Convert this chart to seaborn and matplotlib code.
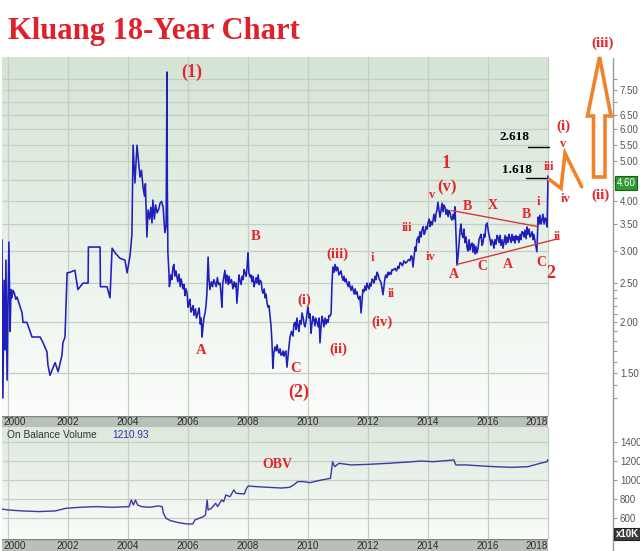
import numpy as np
import pandas as pd
import matplotlib
matplotlib.use('Agg')
import matplotlib.pyplot as plt
import seaborn as sns
from matplotlib.patches import Polygon
from matplotlib.lines import Line2D
from matplotlib.ticker import NullFormatter, FixedLocator, FuncFormatter

sns.set_theme(style='white')
plt.rcParams['font.family'] = ['Liberation Sans', 'DejaVu Sans']

# ---------------- data ----------------
# main swing points of the price line (year, price)
price_year = [1999.80, 1999.83, 1999.87, 1999.90, 1999.93, 1999.97, 2000.00, 2000.03, 2000.07, 2000.10,
              2000.13, 2000.17, 2000.30, 2000.47, 2000.50, 2000.63, 2000.80, 2001.07, 2001.17, 2001.30,
              2001.33, 2001.40, 2001.57, 2001.67, 2001.80, 2001.83, 2001.90, 2001.97, 2002.07, 2002.23,
              2002.33, 2002.50, 2002.67, 2002.68, 2003.07, 2003.08, 2003.30, 2003.40, 2003.47, 2003.57,
              2003.73, 2003.90, 2003.97, 2004.07, 2004.13, 2004.17, 2004.23, 2004.30, 2004.40, 2004.50,
              2004.63, 2004.67, 2004.80, 2004.83, 2004.97, 2005.07, 2005.17, 2005.23, 2005.30, 2005.31,
              2005.33, 2005.40, 2005.50, 2005.63, 2005.80, 2005.97, 2006.00, 2006.13, 2006.33, 2006.47,
              2006.57, 2006.67, 2006.73, 2006.90, 2007.07, 2007.13, 2007.23, 2007.40, 2007.57, 2007.63,
              2007.73, 2007.90, 2008.00, 2008.07, 2008.23, 2008.40, 2008.50, 2008.67, 2008.80, 2008.83,
              2008.90, 2009.00, 2009.13, 2009.23, 2009.30, 2009.40, 2009.57, 2009.67, 2009.80, 2009.90,
              2010.00, 2010.10, 2010.17, 2010.30, 2010.40, 2010.47, 2010.63, 2010.73, 2010.80, 2010.83,
              2010.97, 2011.07, 2011.17, 2011.30, 2011.40, 2011.50, 2011.67, 2011.77, 2011.83, 2012.00,
              2012.17, 2012.30, 2012.40, 2012.50, 2012.57, 2012.67, 2012.83, 2013.07, 2013.30, 2013.47,
              2013.50, 2013.57, 2013.67, 2013.80, 2013.90, 2014.00, 2014.17, 2014.30, 2014.33, 2014.40,
              2014.47, 2014.57, 2014.73, 2014.80, 2014.90, 2014.97, 2015.07, 2015.17, 2015.30, 2015.47,
              2015.63, 2015.73, 2015.83, 2015.97, 2016.07, 2016.17, 2016.33, 2016.50, 2016.73, 2016.97,
              2017.17, 2017.30, 2017.40, 2017.57, 2017.63, 2017.67, 2017.80, 2017.90, 2017.97, 2018.00]
price_value = [3.20, 1.30, 2.54, 1.71, 2.85, 1.44, 2.25, 3.16, 1.90, 2.41,
               2.30, 2.40, 2.31, 2.11, 2.00, 2.00, 1.84, 1.84, 1.78, 1.69,
               1.57, 1.48, 1.59, 1.51, 1.66, 1.78, 1.84, 2.65, 2.66, 2.69,
               2.41, 2.50, 2.50, 3.07, 3.07, 2.45, 2.45, 2.30, 3.05, 2.97,
               2.88, 2.85, 2.65, 2.93, 3.29, 5.48, 4.42, 5.48, 4.57, 4.32,
               3.25, 3.79, 3.52, 4.01, 3.73, 3.94, 3.86, 3.33, 8.31, 4.42,
               2.97, 2.50, 2.74, 2.59, 2.50, 2.36, 2.18, 2.15, 2.11, 1.84,
               2.11, 2.90, 2.41, 2.50, 2.50, 2.18, 2.69, 2.50, 2.45, 2.23,
               2.54, 2.65, 2.97, 2.59, 2.50, 2.54, 2.36, 2.18, 1.78, 1.54,
               1.74, 1.71, 1.66, 1.68, 1.55, 1.84, 2.00, 1.95, 2.11, 1.95,
               2.18, 1.88, 2.07, 2.00, 1.78, 2.07, 2.03, 2.07, 2.50, 2.74,
               2.74, 2.65, 2.54, 2.50, 2.45, 2.41, 2.30, 2.11, 2.41, 2.45,
               2.54, 2.66, 2.54, 2.34, 2.59, 2.66, 2.69, 2.81, 2.82, 2.90,
               2.74, 3.07, 3.25, 3.38, 3.33, 3.52, 3.58, 3.79, 3.96, 3.64,
               3.94, 3.84, 3.75, 3.58, 3.86, 2.77, 3.38, 3.24, 3.07, 3.14,
               2.97, 3.25, 3.14, 3.52, 3.20, 3.14, 3.25, 3.05, 3.24, 3.20,
               3.33, 3.44, 3.25, 3.16, 2.99, 3.64, 3.58, 3.62, 3.44, 4.60]

# extra in-between readings of the jagged daily line (year, price)
detail_year = [2000.22, 2000.26,
               2004.45, 2004.55, 2004.58, 2004.72, 2004.76, 2004.88, 2004.92, 2005.02, 2005.12, 2005.20, 2005.27,
               2005.36, 2005.38, 2005.43, 2005.46, 2005.53, 2005.56, 2005.60, 2005.66, 2005.70, 2005.74, 2005.77,
               2005.83, 2005.87, 2005.90, 2005.93, 2006.03, 2006.06, 2006.10, 2006.17, 2006.20, 2006.25, 2006.28,
               2006.37, 2006.41, 2006.44, 2006.50, 2006.53, 2006.60, 2006.63, 2006.70,
               2006.78, 2006.82, 2006.86, 2006.94, 2006.98, 2007.02,
               2007.10, 2007.16, 2007.19, 2007.26, 2007.30, 2007.34, 2007.37,
               2007.45, 2007.50, 2007.54, 2007.60, 2007.67, 2007.70,
               2007.77, 2007.80, 2007.84, 2007.87, 2007.94, 2007.97,
               2008.03, 2008.10, 2008.13, 2008.17, 2008.20, 2008.27, 2008.30, 2008.34, 2008.37, 2008.44, 2008.47,
               2008.54, 2008.57, 2008.60, 2008.64, 2008.70, 2008.74, 2008.77,
               2008.86, 2008.94, 2008.97, 2009.03, 2009.07, 2009.10, 2009.17, 2009.20, 2009.26,
               2009.35, 2009.45, 2009.50, 2009.53, 2009.60, 2009.63, 2009.70, 2009.73, 2009.77, 2009.84, 2009.87,
               2009.94, 2009.97, 2010.04, 2010.07, 2010.13, 2010.20, 2010.23, 2010.26, 2010.34, 2010.37, 2010.44,
               2010.50, 2010.53, 2010.57, 2010.60, 2010.67, 2010.70, 2010.77,
               2010.87, 2010.90, 2010.94, 2011.00, 2011.03, 2011.10, 2011.14, 2011.20, 2011.24, 2011.27, 2011.34,
               2011.37, 2011.44, 2011.47, 2011.54, 2011.57, 2011.60, 2011.63, 2011.70, 2011.73, 2011.80, 2011.87,
               2011.90, 2011.94, 2011.97,
               2012.04, 2012.07, 2012.10, 2012.14, 2012.20, 2012.24, 2012.27, 2012.34, 2012.37, 2012.44, 2012.47,
               2012.53, 2012.60, 2012.63, 2012.70, 2012.74, 2012.77, 2012.80,
               2012.90, 2012.95, 2013.00, 2013.03, 2013.10, 2013.15, 2013.20, 2013.25, 2013.35, 2013.40, 2013.44,
               2013.60, 2013.63, 2013.70, 2013.73, 2013.77, 2013.84, 2013.87, 2013.94, 2013.97,
               2014.04, 2014.07, 2014.10, 2014.14, 2014.20, 2014.24, 2014.27,
               2014.50, 2014.53, 2014.60, 2014.63, 2014.67, 2014.70, 2014.77, 2014.84, 2014.87,
               2015.00, 2015.03, 2015.10, 2015.13, 2015.20, 2015.23, 2015.27, 2015.33, 2015.37, 2015.40, 2015.43,
               2015.50, 2015.53, 2015.57, 2015.60, 2015.67, 2015.70, 2015.77, 2015.80, 2015.87, 2015.90, 2015.93,
               2016.00, 2016.03,
               2016.10, 2016.13, 2016.20, 2016.23, 2016.27, 2016.30, 2016.37, 2016.40, 2016.43, 2016.47, 2016.53,
               2016.57, 2016.60, 2016.63, 2016.67, 2016.70, 2016.77, 2016.80, 2016.84, 2016.87, 2016.90, 2016.93,
               2017.00, 2017.03, 2017.07, 2017.10, 2017.13, 2017.20, 2017.23, 2017.27, 2017.33, 2017.37, 2017.43,
               2017.47, 2017.50, 2017.53,
               2017.70, 2017.73, 2017.77, 2017.83, 2017.87, 2017.93]
detail_value = [2.35, 2.28,
                4.75, 4.10, 4.40, 3.60, 3.85, 3.60, 3.90, 3.80, 3.98, 3.60, 3.45,
                2.70, 2.45, 2.62, 2.55, 2.78, 2.60, 2.68, 2.52, 2.63, 2.45, 2.56,
                2.42, 2.48, 2.33, 2.42, 2.22, 2.28, 2.12, 2.20, 2.08, 2.16, 2.05,
                2.17, 1.98, 2.05, 1.95, 2.05, 2.20, 2.35, 2.55,
                2.52, 2.45, 2.55, 2.45, 2.58, 2.48,
                2.35, 2.50, 2.58, 2.50, 2.62, 2.48, 2.60,
                2.55, 2.42, 2.52, 2.50, 2.45, 2.62,
                2.48, 2.60, 2.55, 2.70, 2.60, 2.75,
                2.65, 2.62, 2.52, 2.60, 2.45, 2.58, 2.50, 2.62, 2.48, 2.52, 2.40,
                2.42, 2.30, 2.35, 2.22, 2.20, 2.05, 1.95,
                1.68, 1.70, 1.76, 1.68, 1.72, 1.66, 1.70, 1.65, 1.70,
                1.70, 1.90, 1.85, 1.98, 1.92, 2.05, 1.90, 2.02, 1.98, 2.05, 1.98,
                2.02, 2.12, 2.05, 2.10, 1.98, 2.03, 1.96, 2.05, 1.95, 2.05, 1.98,
                2.02, 1.95, 2.05, 1.98, 2.00, 2.08, 2.10,
                2.66, 2.78, 2.68, 2.72, 2.62, 2.68, 2.58, 2.60, 2.52, 2.56, 2.45,
                2.52, 2.40, 2.46, 2.35, 2.42, 2.35, 2.38, 2.28, 2.32, 2.25, 2.38,
                2.46, 2.40, 2.50,
                2.42, 2.50, 2.46, 2.56, 2.50, 2.60, 2.55, 2.62, 2.56, 2.50, 2.42,
                2.45, 2.62, 2.58, 2.62, 2.66, 2.63, 2.70,
                2.72, 2.68, 2.75, 2.72, 2.80, 2.76, 2.84, 2.80, 2.86, 2.84, 2.92,
                3.00, 3.20, 3.15, 3.35, 3.25, 3.45, 3.30, 3.45, 3.40,
                3.60, 3.45, 3.55, 3.48, 3.70, 3.55, 3.72,
                3.75, 3.90, 3.70, 3.80, 3.65, 3.78, 3.62, 3.70, 3.60,
                2.90, 3.10, 3.50, 3.30, 3.40, 3.15, 3.25, 3.00, 3.20, 3.02, 3.10,
                2.98, 3.12, 2.95, 3.08, 3.05, 3.20, 3.30, 3.10, 3.30, 3.25, 3.48,
                3.40, 3.30,
                3.10, 3.20, 3.05, 3.20, 3.12, 3.28, 3.15, 3.28, 3.10, 3.20, 3.15,
                3.28, 3.12, 3.25, 3.15, 3.30, 3.15, 3.30, 3.18, 3.26, 3.14, 3.28,
                3.26, 3.15, 3.30, 3.20, 3.35, 3.25, 3.38, 3.22, 3.30, 3.40, 3.28,
                3.35, 3.20, 3.30,
                3.50, 3.68, 3.50, 3.70, 3.50, 3.60]

obv_year = [1999.80, 2000.00, 2000.48, 2001.03, 2001.58, 2001.92, 2002.40, 2002.95, 2003.49, 2004.04,
            2004.11, 2004.18, 2004.25, 2004.32, 2004.45, 2004.73, 2005.00, 2005.14, 2005.18, 2005.27,
            2005.41, 2005.68, 2005.96, 2006.16, 2006.23, 2006.37, 2006.51, 2006.58, 2006.64, 2006.67,
            2006.78, 2006.92, 2006.99, 2007.12, 2007.19, 2007.26, 2007.40, 2007.53, 2007.60, 2007.88,
            2007.95, 2008.01, 2008.29, 2008.70, 2009.11, 2009.38, 2009.52, 2009.66, 2009.86, 2010.07,
            2010.34, 2010.62, 2010.75, 2010.82, 2010.89, 2011.03, 2011.44, 2011.99, 2012.67, 2013.36,
            2013.77, 2014.18, 2014.86, 2014.93, 2015.27, 2015.82, 2016.23, 2016.78, 2017.33, 2017.74,
            2017.97, 2018.00]
obv_value = [697, 687, 677, 670, 677, 704, 715, 722, 715, 722,
             791, 739, 791, 739, 722, 715, 729, 722, 652, 600,
             576, 555, 541, 541, 583, 600, 617, 635, 791, 687,
             704, 757, 722, 791, 774, 843, 826, 896, 861, 854,
             913, 937, 930, 923, 916, 923, 948, 983, 983, 972,
             993, 1010, 1017, 1191, 1139, 1174, 1157, 1163, 1174, 1188,
             1198, 1191, 1209, 1157, 1157, 1146, 1139, 1132, 1139, 1174,
             1191, 1210.93]

price_ticks = [1.5, 2.0, 2.5, 3.0, 3.5, 4.0, 5.0, 5.5, 6.0, 6.5, 7.5]
price_minor = [1.3, 1.4, 1.6, 1.7, 1.8, 1.9, 2.1, 2.2, 2.3, 2.4, 4.5, 7.0, 8.0]
price_grid = [1.5, 2.0, 2.5, 3.0, 3.5, 4.0, 4.5, 5.0, 5.5, 6.0, 6.5, 7.0, 7.5, 8.0]
obv_ticks = [600, 800, 1000, 1200, 1400]
year_ticks = [2000, 2002, 2004, 2006, 2008, 2010, 2012, 2014, 2016, 2018]
last_price_label = '4.60'
last_obv_label = '1210.93'

# ---------------- layout helpers ----------------
W, H = 640, 551
fig = plt.figure(figsize=(6.4, 5.51), dpi=100)
fig.patch.set_facecolor('white')


def fx(x):
    return x / W


def fy(y):
    return 1 - y / H


def rect(x0, y0, x1, y1):
    return [x0 / W, 1 - y1 / H, (x1 - x0) / W, (y1 - y0) / H]


X0, XEND, X1 = 1999.8, 2018.0, 2020.167
GRID = '#c6cdc6'
RED = '#e2262b'


def gradient(box, top, bottom):
    a = fig.add_axes(rect(*box), zorder=-5)
    t = np.linspace(0, 1, 256)[:, None]
    c = np.array(top)[None, :] * (1 - t) + np.array(bottom)[None, :] * t
    a.imshow((c / 255.0)[:, None, :], aspect='auto', extent=[0, 1, 0, 1], interpolation='bilinear')
    a.set_axis_off()
    return a


def band(box):
    b = fig.add_axes(rect(*box), zorder=-4)
    b.set_facecolor('#b8c0b8')
    b.set_xlim(X0, XEND)
    b.set_ylim(0, 1)
    b.set_xticks([])
    b.set_yticks([])
    for s in b.spines.values():
        s.set_visible(False)
    b.axhline(1, color='#7d857d', lw=1.0)
    b.axhline(0, color='#9aa29a', lw=0.8)
    for yr in year_ticks:
        if yr == year_ticks[0]:
            b.text(X0 + 0.05, 0.45, str(yr), ha='left', va='center', fontsize=7.2, color='#2a2a2a')
        elif yr == year_ticks[-1]:
            b.text(XEND - 0.02, 0.45, str(yr), ha='right', va='center', fontsize=7.2, color='#2a2a2a')
        else:
            b.text(yr, 0.45, str(yr), ha='center', va='center', fontsize=7.2, color='#2a2a2a')
    return b


# ---------------- main price panel ----------------
gradient((2, 57, 548, 416), (213, 228, 213), (251, 253, 251))
ax = fig.add_axes(rect(2, 57, 613, 416))
ax.patch.set_alpha(0)
ax.set_yscale('log')
ax.hlines(price_grid, X0, XEND, color=GRID, lw=0.9, zorder=0.5)
ax.vlines(year_ticks, 1.0, 10.0, color=GRID, lw=0.9, zorder=0.5)
dfp = pd.concat([pd.DataFrame({'year': price_year, 'price': price_value}),
                 pd.DataFrame({'year': detail_year, 'price': detail_value})])
dfp = dfp.sort_values('year', kind='mergesort').reset_index(drop=True)
sns.lineplot(data=dfp, x='year', y='price', ax=ax, color='#1f1fbc', lw=1.15,
             estimator=None, sort=False, zorder=3)
ax.set_xlim(X0, X1)
ax.set_ylim(1.174, 9.05)
ax.set_xlabel('')
ax.set_ylabel('')
ax.set_xticks([])
ax.yaxis.tick_right()
ax.yaxis.set_major_locator(FixedLocator(price_ticks))
ax.yaxis.set_minor_locator(FixedLocator(price_minor))
ax.yaxis.set_major_formatter(FuncFormatter(lambda v, p: f'{v:.2f}'))
ax.yaxis.set_minor_formatter(NullFormatter())
ax.tick_params(axis='y', which='both', direction='out', length=3, width=0.8, color='#999999',
               labelsize=7, labelcolor='#555555', pad=2, right=True, left=False)
for side in ('top', 'left', 'bottom', 'right'):
    ax.spines[side].set_visible(False)

band((2, 416, 548, 427))

# ---------------- OBV panel ----------------
gradient((2, 427, 548, 539), (221, 233, 221), (250, 252, 250))
ax2 = fig.add_axes(rect(2, 427, 613, 539))
ax2.patch.set_alpha(0)
ax2.hlines(obv_ticks, X0, XEND, color=GRID, lw=0.9, zorder=0.5)
ax2.vlines(year_ticks, 300, 1700, color=GRID, lw=0.9, zorder=0.5)
dfo = pd.DataFrame({'year': obv_year, 'obv': obv_value})
sns.lineplot(data=dfo, x='year', y='obv', ax=ax2, color='#3a3aa2', lw=1.0,
             estimator=None, sort=False, zorder=3)
ax2.set_xlim(X0, X1)
ax2.set_ylim(384, 1553)
ax2.set_xlabel('')
ax2.set_ylabel('')
ax2.set_xticks([])
ax2.yaxis.tick_right()
ax2.set_yticks(obv_ticks)
ax2.set_yticklabels([str(v) for v in obv_ticks])
ax2.tick_params(axis='y', direction='out', length=3, width=0.8, color='#999999',
                labelsize=7, labelcolor='#555555', pad=2, right=True, left=False)
for side in ('top', 'left', 'bottom', 'right'):
    ax2.spines[side].set_visible(False)

band((2, 539, 548, 551))

# continuous right-hand axis line through both panels
fig.add_artist(Line2D([fx(613), fx(613)], [fy(58), fy(551)], transform=fig.transFigure,
                      color='#999999', lw=1.0, zorder=8))

# ---------------- texts ----------------
fig.text(fx(8), fy(31), 'Kluang 18-Year Chart', fontsize=22, color='#e0202a',
         fontweight='bold', family='Liberation Serif', ha='left', va='center')

fig.text(fx(7), fy(435), 'On Balance Volume', fontsize=7.3, color='#333333', ha='left', va='center')
fig.text(fx(112), fy(435), last_obv_label, fontsize=7.3, color='#3030b0', ha='left', va='center')

fig.text(fx(626), fy(183), last_price_label, fontsize=7, color='white', ha='center', va='center',
         bbox=dict(boxstyle='square,pad=0.2', fc='#2f9a2f', ec='#1d5e1d', lw=0.8), zorder=10)
fig.text(fx(627), fy(534), 'x10K', fontsize=7, color='white', ha='center', va='center', fontweight='bold',
         bbox=dict(boxstyle='square,pad=0.15', fc='#3c3c3c', ec='#222222', lw=0.8), zorder=10)

labels = [
    ('(1)', 192, 72, 13), ('A', 201, 351, 10.5), ('B', 256, 237, 10.5), ('C', 296, 368, 10.5),
    ('(2)', 299, 392, 13), ('(i)', 304, 300, 10.5), ('(ii)', 338, 349, 10.5), ('(iii)', 337, 254, 10.5),
    ('i', 372, 258, 9), ('ii', 391, 294, 9), ('(iv)', 382, 322, 10.5), ('iii', 407, 228, 9),
    ('iv', 431, 257, 9), ('v', 432, 195, 9), ('(v)', 447, 187, 12), ('1', 446, 163, 13),
    ('B', 467, 206, 10), ('X', 493, 205, 10), ('B', 526, 214, 10), ('i', 538, 202, 9),
    ('ii', 557, 237, 9), ('A', 454, 275, 10), ('C', 482, 267, 10), ('A', 508, 264, 10),
    ('C', 541, 263, 10), ('2', 551, 273, 13), ('iii', 549, 167, 9), ('(i)', 563, 126, 11),
    ('v', 563, 144, 9), ('iv', 566, 199, 9), ('(ii)', 600, 195, 11), ('(iii)', 603, 43, 11),
    ('OBV', 277, 464, 10),
]
for s, x, y, size in labels:
    fig.text(fx(x), fy(y), s, fontsize=size, color=RED, fontweight='bold',
             family='Liberation Serif', ha='center', va='center', zorder=10)

for s, x, y in [('2.618', 514, 137), ('1.618', 517, 170)]:
    fig.text(fx(x), fy(y), s, fontsize=9.5, color='black', fontweight='bold',
             family='Liberation Serif', ha='center', va='center', zorder=10)

for (xa, xb, yy) in [(528, 549, 146.7), (526, 549, 178)]:
    fig.add_artist(Line2D([fx(xa), fx(xb)], [fy(yy), fy(yy)], transform=fig.transFigure,
                          color='black', lw=1.0, zorder=9))

fig.add_artist(Line2D([fx(451.7), fx(538.5)], [fy(210.5), fy(226.7)], transform=fig.transFigure,
                      color='#d03a3a', lw=1.0, zorder=9))
fig.add_artist(Line2D([fx(456.7), fx(555)], [fy(264.5), fy(239.5)], transform=fig.transFigure,
                      color='#d03a3a', lw=1.0, zorder=9))

zx = [549, 561, 565, 581.7]
zy = [179.3, 188.3, 153.3, 186.7]
fig.add_artist(Line2D([fx(v) for v in zx], [fy(v) for v in zy], transform=fig.transFigure,
                      color='#f0832a', lw=2.6, zorder=9, solid_joinstyle='miter'))

arrow_px = [(599.5, 57), (611, 116), (605, 116), (605, 177), (593.5, 177), (593.5, 116), (587.5, 116)]
fig.add_artist(Polygon([(fx(a), fy(b)) for a, b in arrow_px], closed=True, transform=fig.transFigure,
                       facecolor='white', edgecolor='#f0832a', lw=2.6, joinstyle='miter', zorder=9))

fig.savefig('out.png', dpi=100)
